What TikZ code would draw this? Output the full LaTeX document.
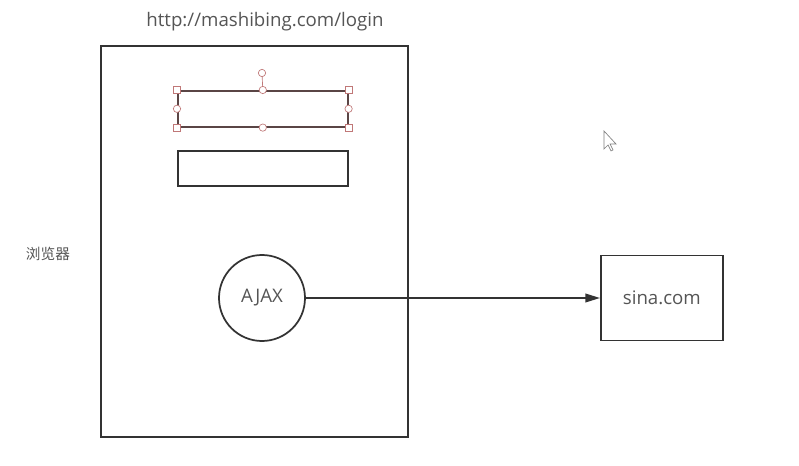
\documentclass[tikz,border=0pt]{standalone}
\usepackage{fontspec}
\setmainfont{Open Sans}
\newfontfamily\cjk{Noto Sans CJK SC}
\usetikzlibrary{arrows.meta}
\definecolor{linec}{HTML}{333333}
\definecolor{textc}{HTML}{555555}
\definecolor{selc}{HTML}{5A4545}
\definecolor{handlec}{HTML}{C07878}
\begin{document}
\begin{tikzpicture}[x=0.75pt,y=-0.75pt,
  box/.style={draw=linec,line width=1.3pt,inner sep=0pt},
  lbl/.style={text=textc,font=\fontsize{14}{16}\selectfont,inner sep=0pt},
  sq/.style={draw=handlec,fill=white,line width=0.5pt,minimum size=5pt,inner sep=0pt,rectangle},
  rd/.style={draw=handlec,fill=white,line width=0.5pt,minimum size=5.5pt,inner sep=0pt,circle}]
\useasboundingbox (0,0) rectangle (799,466);
\fill[white] (0,0) rectangle (799,466);
% browser box
\node[box,minimum width=230.25pt,minimum height=293.25pt,anchor=north west] (browser) at (100,45) {};
\node[lbl] (url) at (265,22) {http://mashibing.com/login};
\node[lbl,font=\cjk\fontsize{11}{13}\selectfont] (label) at (48,254) {浏览器};
% selected input
\node[draw=selc,line width=1.2pt,minimum width=127.5pt,minimum height=27pt,anchor=north west,inner sep=0pt] (in1) at (177,90) {};
\node[box,minimum width=127.5pt,minimum height=26.25pt,anchor=north west] (in2) at (177,150) {};
% handles
\coordinate (rot) at (262,73);
\draw[handlec,line width=0.5pt] (rot) -- (in1.north);
\node[rd] (h0) at (rot) {};
\foreach \a/\n in {north west/h1,north east/h2,south west/h3,south east/h4}
  \node[sq] (\n) at (in1.\a) {};
\foreach \a/\n in {north/h5,south/h6,west/h7,east/h8}
  \node[rd] (\n) at (in1.\a) {};
% ajax
\node[draw=linec,line width=1.3pt,circle,minimum size=64.5pt,inner sep=0pt,lbl] (ajax) at (262,298) {AJAX};
\node[box,minimum width=91.5pt,minimum height=63.75pt,anchor=west] (sina) at (600,298) {};
\node[lbl] (sinat) at (sina.center) {sina.com};
\draw[linec,line width=1.3pt,-{Triangle[length=11pt,width=6.5pt]}] (ajax) -- (sina);
% mouse cursor
\draw[gray,line width=0.5pt,fill=white] (604,131) -- (604,149) -- (608,145) -- (611,151) -- (613,150) -- (610,144) -- (616,144) -- cycle;
\end{tikzpicture}
\end{document}
